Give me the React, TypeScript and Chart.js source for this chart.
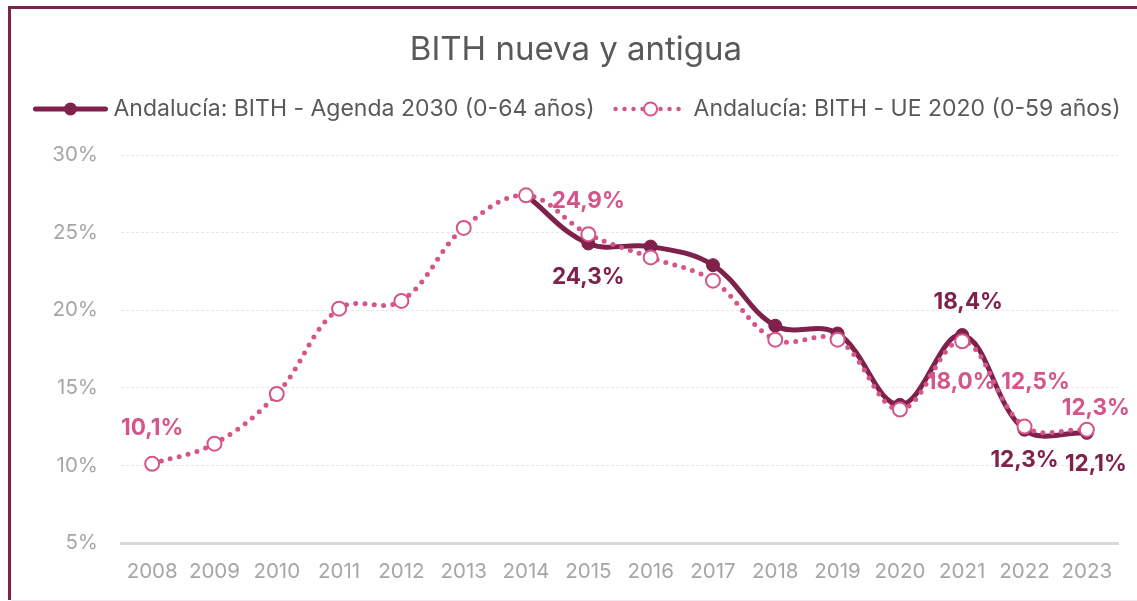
import React, { useEffect, useRef } from 'react';
import { Chart, registerables } from 'chart.js';

Chart.register(...registerables);

// ---------- data ----------
const years = ['2008', '2009', '2010', '2011', '2012', '2013', '2014', '2015', '2016', '2017', '2018', '2019', '2020', '2021', '2022', '2023'];
const agenda2030 = [null, null, null, null, null, null, 27.4, 24.3, 24.1, 22.9, 19.0, 18.5, 13.9, 18.4, 12.3, 12.1];
const ue2020 = [10.1, 11.4, 14.6, 20.1, 20.6, 25.3, 27.4, 24.9, 23.4, 21.9, 18.1, 18.1, 13.6, 18.0, 12.5, 12.3];
const yTicks = [5, 10, 15, 20, 25, 30];
const seriesNames = ['Andalucía: BITH - Agenda 2030 (0-64 años)', 'Andalucía: BITH - UE 2020 (0-59 años)'];
const chartTitle = 'BITH nueva y antigua';

// which points carry a value label, and where the label sits relative to the point (style)
const agendaLabels: Record<number, [number, number]> = { 7: [0, 34], 13: [6, -33], 14: [0, 31], 15: [9, 31] };
const ueLabels: Record<number, [number, number]> = { 0: [0, -36], 7: [0, -33], 13: [-1, 41], 14: [11, -44], 15: [9, -21] };

const MAROON = '#7E214B';
const PINK = '#D4558A';
const FONT = 'Inter, "Noto Sans", sans-serif';

const fmt = (v: number) => v.toFixed(1).replace('.', ',') + '%';

const decorPlugin = {
  id: 'decor',
  afterDatasetsDraw(chart: any) {
    const ctx = chart.ctx as CanvasRenderingContext2D;
    ctx.save();
    // title
    ctx.fillStyle = '#595959';
    ctx.font = `33px ${FONT}`;
    ctx.textAlign = 'center';
    ctx.textBaseline = 'middle';
    ctx.fillText(chartTitle, 576, 50);

    // legend
    ctx.font = `23px ${FONT}`;
    const symW = 70, symGap = 8, itemGap = 21;
    const w1 = ctx.measureText(seriesNames[0]).width;
    const w2 = ctx.measureText(seriesNames[1]).width;
    const total = symW + symGap + w1 + itemGap + symW + symGap + w2;
    let x = 578 - total / 2;
    const ly = 109;
    // item 1
    ctx.strokeStyle = MAROON;
    ctx.lineWidth = 5;
    ctx.lineCap = 'round';
    ctx.beginPath();
    ctx.moveTo(x, ly);
    ctx.lineTo(x + symW, ly);
    ctx.stroke();
    ctx.fillStyle = MAROON;
    ctx.beginPath();
    ctx.arc(x + symW / 2, ly, 6.5, 0, Math.PI * 2);
    ctx.fill();
    ctx.fillStyle = '#595959';
    ctx.textAlign = 'left';
    ctx.fillText(seriesNames[0], x + symW + symGap, ly);
    x += symW + symGap + w1 + itemGap;
    // item 2
    ctx.strokeStyle = PINK;
    ctx.lineWidth = 4.5;
    ctx.setLineDash([0, 9]);
    ctx.beginPath();
    ctx.moveTo(x, ly);
    ctx.lineTo(x + symW, ly);
    ctx.stroke();
    ctx.setLineDash([]);
    ctx.fillStyle = '#ffffff';
    ctx.lineWidth = 2;
    ctx.beginPath();
    ctx.arc(x + symW / 2, ly, 6.5, 0, Math.PI * 2);
    ctx.fill();
    ctx.stroke();
    ctx.fillStyle = '#595959';
    ctx.fillText(seriesNames[1], x + symW + symGap, ly);

    // data labels
    ctx.font = `bold 22.5px ${FONT}`;
    ctx.textAlign = 'center';
    ctx.textBaseline = 'middle';
    const drawLabels = (dsIndex: number, values: (number | null)[], offs: Record<number, [number, number]>, color: string) => {
      const meta = chart.getDatasetMeta(dsIndex);
      ctx.fillStyle = color;
      Object.keys(offs).forEach((k) => {
        const i = Number(k);
        const v = values[i];
        if (v == null) return;
        const el = meta.data[i];
        const [dx, dy] = offs[i];
        ctx.fillText(fmt(v), el.x + dx, el.y + dy);
      });
    };
    drawLabels(1, agenda2030, agendaLabels, MAROON);
    drawLabels(0, ue2020, ueLabels, PINK);
    ctx.restore();
  },
};

export default function App() {
  const ref = useRef<HTMLCanvasElement>(null);
  useEffect(() => {
    if (!ref.current) return;
    const chart = new Chart(ref.current, {
      type: 'line',
      data: {
        labels: years,
        datasets: [
          {
            label: seriesNames[1],
            data: ue2020,
            borderColor: PINK,
            borderWidth: 5,
            borderDash: [0, 9.3],
            borderCapStyle: 'round',
            tension: 0.38,
            pointRadius: 7,
            pointHoverRadius: 7,
            pointBackgroundColor: '#ffffff',
            pointBorderColor: PINK,
            pointBorderWidth: 2,
            fill: false,
          },
          {
            label: seriesNames[0],
            data: agenda2030,
            borderColor: MAROON,
            borderWidth: 5,
            tension: 0.38,
            pointRadius: 6.5,
            pointHoverRadius: 6.5,
            pointBackgroundColor: MAROON,
            pointBorderColor: MAROON,
            pointBorderWidth: 1,
            fill: false,
            spanGaps: false,
          },
        ],
      } as any,
      options: {
        animation: false,
        responsive: true,
        maintainAspectRatio: false,
        layout: { padding: { top: 155, left: 0, right: 19, bottom: 0 } },
        plugins: {
          legend: { display: false },
          title: { display: false },
          tooltip: { enabled: false },
        },
        scales: {
          x: {
            type: 'category',
            offset: true,
            grid: { display: false, drawTicks: false },
            border: { display: true, color: '#D9D9D9', width: 3 },
            ticks: { color: '#A6A6A6', font: { size: 20.5, family: FONT }, padding: 17, maxRotation: 0, autoSkip: false },
            afterFit: (s: any) => { s.height = 58; },
          },
          y: {
            type: 'linear',
            min: 5,
            max: 30,
            afterBuildTicks: (s: any) => { s.ticks = yTicks.map((v) => ({ value: v })); },
            ticks: { color: '#A6A6A6', font: { size: 20.5, family: FONT }, padding: 23, callback: (v: any) => v + '%' },
            grid: {
              drawTicks: false,
              color: (c: any) => (c.tick && c.tick.value === 5 ? 'rgba(0,0,0,0)' : '#E6E6E6'),
              lineWidth: 1,
            },
            border: { display: false, dash: [3, 2] },
            afterFit: (s: any) => { s.width = 121; },
          },
        },
      } as any,
      plugins: [decorPlugin],
    });
    return () => chart.destroy();
  }, []);

  return (
    <div style={{ position: 'fixed', left: 0, top: 0, width: 1137, height: 601, background: '#ffffff', overflow: 'hidden' }}>
      <div style={{ position: 'absolute', left: 8, top: 6, right: -10, bottom: 1, borderTop: `3px solid ${MAROON}`, borderLeft: `3px solid ${MAROON}` }} />
      <div style={{ position: 'absolute', left: 11, right: 0, bottom: 0, height: 1, background: '#F3E6EC' }} />
      <div style={{ position: 'absolute', left: 0, top: 0, width: 1137, height: 601 }}>
        <canvas ref={ref} />
      </div>
    </div>
  );
}
